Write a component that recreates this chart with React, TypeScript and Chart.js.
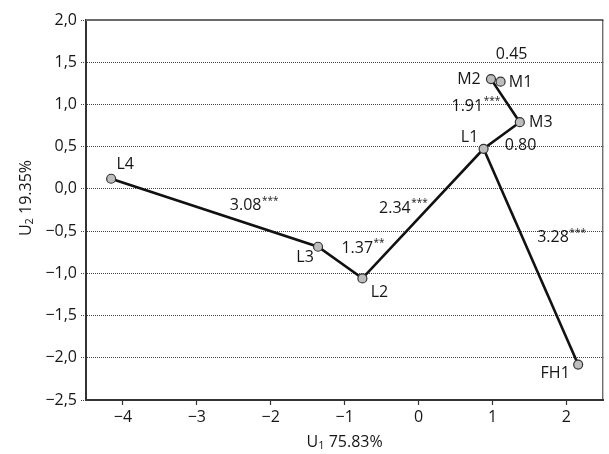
import { useEffect, useRef } from "react";
import { Chart, registerables } from "chart.js";

Chart.register(...registerables);

// ---- data ----
const pointNames = ["L4", "L3", "L2", "L1", "M3", "M2", "M1", "FH1"];
const u1Values = [-4.16, -1.36, -0.76, 0.88, 1.37, 0.98, 1.11, 2.16];
const u2Values = [0.12, -0.685, -1.06, 0.475, 0.79, 1.3, 1.27, -2.08];

// connected paths (by point name)
const mainPath = ["L4", "L3", "L2", "L1", "M3", "M2"];
const branchPath = ["L1", "FH1"];

// distance labels: text, significance, anchor (U1, U2)
const distTexts = ["0.45", "1.91", "0.80", "2.34", "1.37", "3.08", "3.28"];
const distStars = ["", "***", "", "***", "**", "***", "***"];
const distU1 = [1.26, 0.66, 1.38, -0.32, -0.83, -2.34, 1.82];
const distU2 = [1.59, 0.98, 0.52, -0.23, -0.7, -0.2, -0.58];

// axis
const xMin = -4.5;
const xMax = 2.5;
const xTickValues = [-4, -3, -2, -1, 0, 1, 2];
const yMin = -2.5;
const yMax = 2.0;
const xTitleMain = "U";
const xTitleSub = "1";
const xTitleRest = " 75.83%";
const yTitleMain = "U";
const yTitleSub = "2";
const yTitleRest = " 19.35%";

// label pixel offsets for point names (style, not data)
const nameOffsets: Record<string, [number, number]> = {
  L4: [14, -14],
  L3: [-13, 11],
  L2: [17, 14],
  L1: [-14, -11],
  M3: [21, 0],
  M2: [-22, 0],
  M1: [20, 1],
  FH1: [-23, 9],
};

const FONT = "'Open Sans', 'Noto Sans', sans-serif";
const TEXT = "#161616";
const FS = 16;

const pathData = (names: string[]) =>
  names.map((n) => {
    const i = pointNames.indexOf(n);
    return { x: u1Values[i], y: u2Values[i] };
  });

const fmtMinus = (s: string) => s.replace("-", "\u2212");

const labelPlugin = {
  id: "labels",
  afterDraw(chart: any) {
    const { ctx, chartArea } = chart;
    const xs = chart.scales.x;
    const ys = chart.scales.y;
    ctx.save();
    // top & right frame lines
    ctx.strokeStyle = "#6a6a6a";
    ctx.lineWidth = 2;
    ctx.beginPath();
    ctx.moveTo(chartArea.left, chartArea.top);
    ctx.lineTo(chartArea.right, chartArea.top);
    ctx.stroke();
    ctx.strokeStyle = "#333";
    ctx.lineWidth = 1;
    ctx.beginPath();
    ctx.moveTo(chartArea.right - 0.5, chartArea.top);
    ctx.lineTo(chartArea.right - 0.5, chartArea.bottom);
    ctx.stroke();

    ctx.fillStyle = TEXT;
    ctx.textBaseline = "middle";
    ctx.textAlign = "center";
    // point names
    ctx.font = `${FS}px ${FONT}`;
    pointNames.forEach((n, i) => {
      const px = xs.getPixelForValue(u1Values[i]);
      const py = ys.getPixelForValue(u2Values[i]);
      const off = nameOffsets[n] || [0, 0];
      ctx.fillText(n, px + off[0], py + off[1]);
    });
    // distance labels
    distTexts.forEach((t, i) => {
      const px = xs.getPixelForValue(distU1[i]);
      const py = ys.getPixelForValue(distU2[i]);
      ctx.font = `${FS}px ${FONT}`;
      ctx.textAlign = "center";
      ctx.fillText(t, px, py);
      const w = ctx.measureText(t).width;
      if (distStars[i]) {
        ctx.font = `10px ${FONT}`;
        ctx.textAlign = "left";
        ctx.fillText(distStars[i], px + w / 2 + 0.5, py - 5);
      }
    });
    // axis titles
    const drawTitle = (main: string, sub: string, rest: string) => {
      ctx.font = `${FS}px ${FONT}`;
      const w1 = ctx.measureText(main).width;
      const w3 = ctx.measureText(rest).width;
      ctx.font = `11px ${FONT}`;
      const w2 = ctx.measureText(sub).width;
      const total = w1 + w2 + w3;
      let x = -total / 2;
      ctx.textAlign = "left";
      ctx.font = `${FS}px ${FONT}`;
      ctx.fillText(main, x, 0);
      x += w1;
      ctx.font = `11px ${FONT}`;
      ctx.fillText(sub, x, 4);
      x += w2;
      ctx.font = `${FS}px ${FONT}`;
      ctx.fillText(rest, x, 0);
    };
    ctx.save();
    ctx.translate((chartArea.left + chartArea.right) / 2, 442);
    drawTitle(xTitleMain, xTitleSub, xTitleRest);
    ctx.restore();
    ctx.save();
    ctx.translate(26, 198);
    ctx.rotate(-Math.PI / 2);
    drawTitle(yTitleMain, yTitleSub, yTitleRest);
    ctx.restore();
    ctx.restore();
  },
};

export default function App() {
  const ref = useRef<HTMLCanvasElement>(null);
  useEffect(() => {
    document.body.style.margin = "0";
    const canvas = ref.current;
    if (!canvas) return;
    const lineDs = (names: string[]) => ({
      type: "scatter" as const,
      data: pathData(names),
      showLine: true,
      borderColor: "#111",
      borderWidth: 2.6,
      pointRadius: 0,
      pointHoverRadius: 0,
      fill: false,
    });
    const chart = new Chart(canvas, {
      type: "scatter",
      data: {
        datasets: [
          {
            data: pointNames.map((_, i) => ({ x: u1Values[i], y: u2Values[i] })),
            showLine: false,
            pointRadius: 4.5,
            pointBackgroundColor: "#bdbdbd",
            pointBorderColor: "#333",
            pointBorderWidth: 1.2,
          } as any,
          lineDs(mainPath),
          lineDs(branchPath),
        ],
      },
      options: {
        animation: false,
        responsive: true,
        maintainAspectRatio: false,
        layout: { padding: { top: 20, right: 3, left: 0, bottom: 0 } },
        plugins: {
          legend: { display: false },
          tooltip: { enabled: false },
        },
        scales: {
          x: {
            type: "linear",
            min: xMin,
            max: xMax,
            afterBuildTicks: (s: any) => {
              s.ticks = xTickValues.map((v) => ({ value: v }));
            },
            afterFit: (s: any) => {
              s.height = 54;
            },
            ticks: {
              color: TEXT,
              font: { family: FONT, size: FS },
              padding: 3,
              callback: (v: any) => fmtMinus(String(v)),
            },
            grid: {
              drawOnChartArea: false,
              drawTicks: true,
              tickLength: 5,
              tickColor: "#333",
              tickWidth: 1.2,
            },
            border: { color: "#333", width: 2 },
          },
          y: {
            type: "linear",
            min: yMin,
            max: yMax,
            afterFit: (s: any) => {
              s.width = 86;
            },
            ticks: {
              stepSize: 0.5,
              color: TEXT,
              font: { family: FONT, size: FS },
              padding: 4,
              callback: (v: any) => fmtMinus(Number(v).toFixed(1).replace(".", ",")),
            },
            grid: {
              drawOnChartArea: true,
              drawTicks: true,
              tickLength: 5,
              color: "#444",
              lineWidth: 1,
              tickColor: "#444",
              tickBorderDash: [1, 1],
            },
            border: { color: "#333", width: 2, dash: [1, 1] },
          },
        },
      },
      plugins: [labelPlugin],
    });
    return () => chart.destroy();
  }, []);
  return (
    <div style={{ position: "relative", width: 609, height: 454 }}>
      <canvas ref={ref} />
    </div>
  );
}
